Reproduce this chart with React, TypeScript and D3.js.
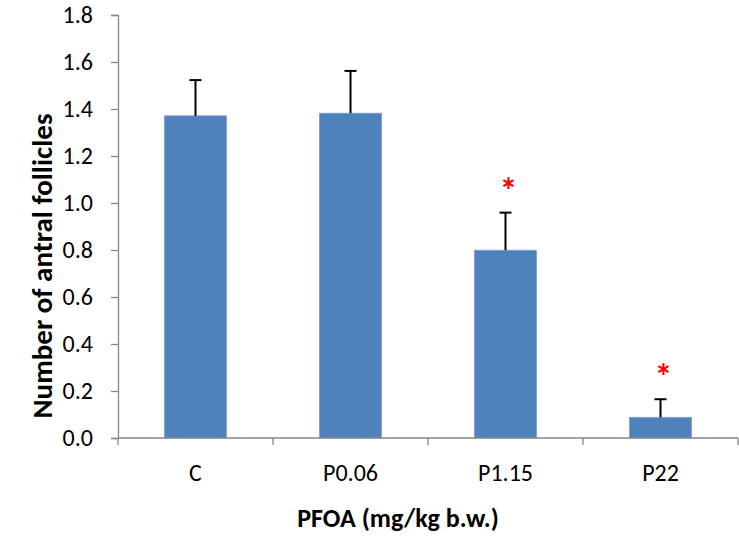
import React, { useEffect, useRef } from 'react';
import * as d3 from 'd3';

const categories = ['C', 'P0.06', 'P1.15', 'P22'];
const means = [1.371, 1.382, 0.799, 0.088];
const errors = [0.152, 0.180, 0.160, 0.077];
const significant = [false, false, true, true];
const yTicks = [0, 0.2, 0.4, 0.6, 0.8, 1.0, 1.2, 1.4, 1.6, 1.8];

const App = () => {
  const ref = useRef<SVGSVGElement>(null);

  useEffect(() => {
    const width = 739;
    const height = 543;
    const left = 118;
    const right = 738;
    const top = 15;
    const bottom = 438;
    const font = "Carlito, 'Open Sans', 'Noto Sans', sans-serif";

    const svg = d3.select(ref.current);
    svg.selectAll('*').remove();
    svg.attr('width', width).attr('height', height);

    const x = d3.scaleBand<string>()
      .domain(categories)
      .range([left, right])
      .paddingInner(0.6)
      .paddingOuter(0.3);
    const y = d3.scaleLinear().domain([0, 1.8]).range([bottom, top]);

    const axisColor = '#868686';

    // y axis
    const yAxis = svg.append('g')
      .attr('transform', `translate(${left},0)`)
      .call(d3.axisLeft(y).tickValues(yTicks).tickSize(7).tickPadding(18).tickFormat(d3.format('.1f')));
    yAxis.select('.domain').attr('stroke', axisColor).attr('stroke-width', 1.3);
    yAxis.selectAll('.tick line').attr('stroke', axisColor).attr('stroke-width', 1.3);
    yAxis.selectAll('.tick text')
      .attr('fill', '#000')
      .style('font-family', font)
      .style('font-size', '24px');

    // bars
    svg.selectAll('.bar')
      .data(categories)
      .enter().append('rect')
      .attr('class', 'bar')
      .attr('x', d => x(d)!)
      .attr('width', x.bandwidth())
      .attr('y', (d, i) => y(means[i]))
      .attr('height', (d, i) => y(0) - y(means[i]))
      .attr('fill', '#4f81bd')
      .attr('stroke', '#7a9fd0')
      .attr('stroke-width', 0.8);

    // error bars
    const eb = svg.selectAll('.err')
      .data(categories)
      .enter().append('g')
      .attr('class', 'err');
    eb.append('line')
      .attr('x1', d => x(d)! + x.bandwidth() / 2)
      .attr('x2', d => x(d)! + x.bandwidth() / 2)
      .attr('y1', (d, i) => y(means[i]))
      .attr('y2', (d, i) => y(means[i] + errors[i]))
      .attr('stroke', '#000')
      .attr('stroke-width', 2);
    eb.append('line')
      .attr('x1', d => x(d)! + x.bandwidth() / 2 - 6)
      .attr('x2', d => x(d)! + x.bandwidth() / 2 + 6)
      .attr('y1', (d, i) => y(means[i] + errors[i]))
      .attr('y2', (d, i) => y(means[i] + errors[i]))
      .attr('stroke', '#000')
      .attr('stroke-width', 2);

    // significance stars
    svg.selectAll('.star')
      .data(categories.filter((d, i) => significant[i]))
      .enter().append('text')
      .attr('class', 'star')
      .attr('x', d => x(d)! + x.bandwidth() / 2 + 3)
      .attr('y', d => {
        const i = categories.indexOf(d);
        return y(means[i] + errors[i]) - 10;
      })
      .attr('text-anchor', 'middle')
      .attr('fill', '#ff0000')
      .style('font-family', font)
      .style('font-size', '36px')
      .style('font-weight', 'bold')
      .text('*');

    // x axis
    const xAxis = svg.append('g')
      .attr('transform', `translate(0,${bottom})`);
    xAxis.append('line')
      .attr('x1', left).attr('x2', right)
      .attr('stroke', axisColor).attr('stroke-width', 1.3);
    const bounds = [left, ...categories.map(d => x(d)! + x.bandwidth() / 2 + x.step() / 2)];
    xAxis.selectAll('.xt')
      .data(bounds)
      .enter().append('line')
      .attr('x1', d => d).attr('x2', d => d)
      .attr('y1', 0).attr('y2', 7)
      .attr('stroke', axisColor).attr('stroke-width', 1.3);
    xAxis.selectAll('.xl')
      .data(categories)
      .enter().append('text')
      .attr('x', d => x(d)! + x.bandwidth() / 2)
      .attr('y', 43)
      .attr('text-anchor', 'middle')
      .style('font-family', font)
      .style('font-size', '24px')
      .text(d => d);

    // axis titles
    svg.append('text')
      .attr('transform', `translate(52,266) rotate(-90)`)
      .attr('text-anchor', 'middle')
      .style('font-family', font)
      .style('font-size', '29px')
      .style('font-weight', 'bold')
      .text('Number of antral follicles');
    svg.append('text')
      .attr('x', 398)
      .attr('y', 527)
      .attr('text-anchor', 'middle')
      .style('font-family', font)
      .style('font-size', '26px')
      .style('font-weight', 'bold')
      .text('PFOA (mg/kg b.w.)');
  }, []);

  return (
    <svg ref={ref} style={{ position: 'absolute', left: 0, top: 0 }}></svg>
  );
};

export default App;
